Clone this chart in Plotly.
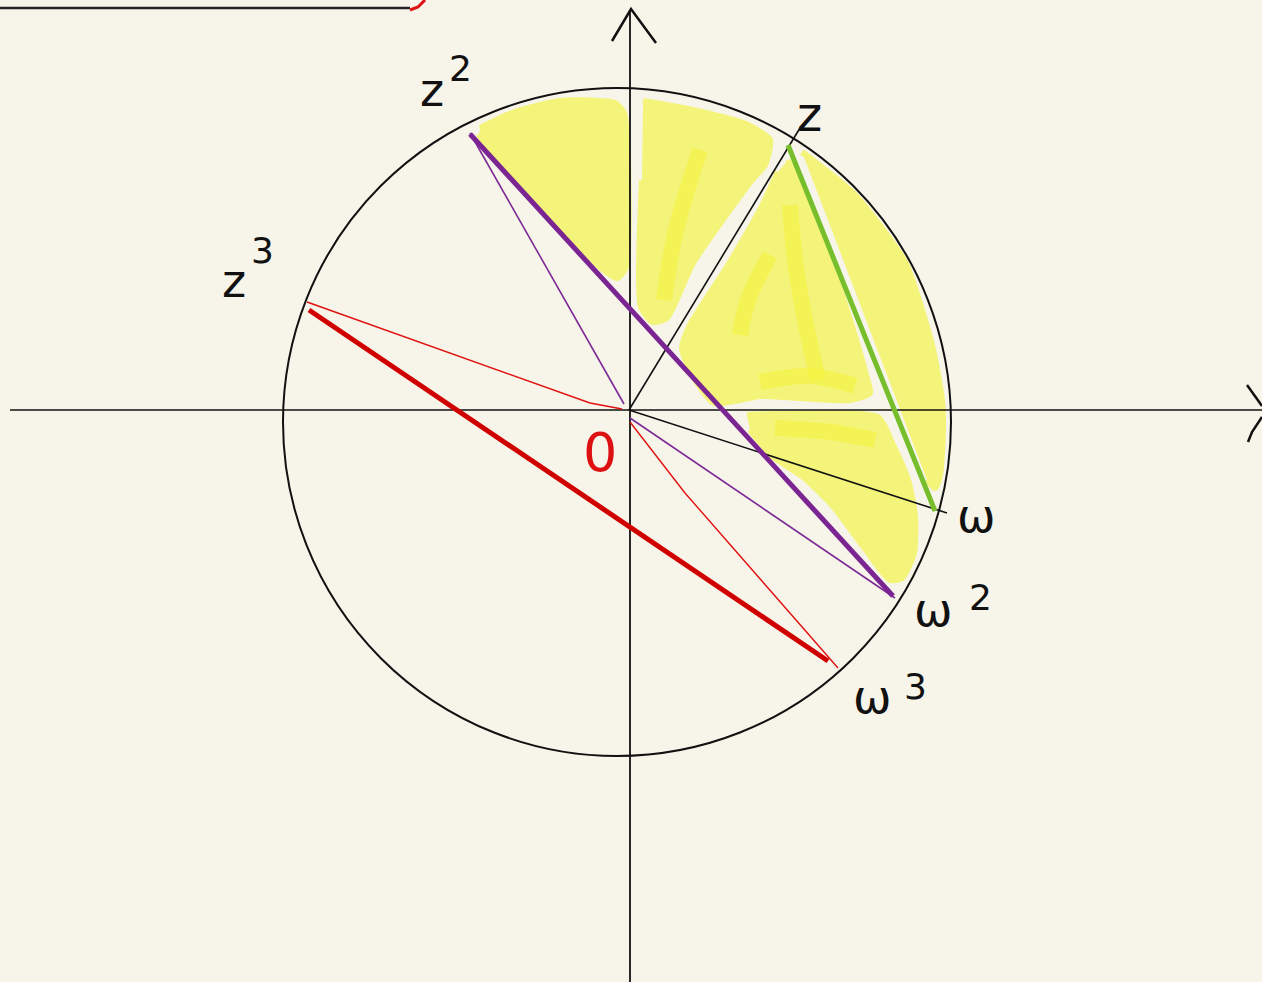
import plotly.graph_objects as go

W, H = 1262, 982
BG = "#F7F5E9"

# ---- data (pixel-space coordinates) ----
circle_box = [283, 88, 951, 756]  # x0, y0, x1, y1

# green chord z -> w
green_x = [788, 935]
green_y = [145, 511]
# purple thick chord z2 -> w2
purple_x = [470, 893]
purple_y = [134, 596]
# purple thin radii
purple_thin_x = [470, 624, None, 630, 895]
purple_thin_y = [133, 404, None, 418, 598]
# red thick chord z3 -> w3
red_x = [309, 828]
red_y = [310, 661]
# red thin radii (hand drawn, slightly bent)
red_thin_x = [307, 527, 590, 622, None, 630, 685, 838]
red_thin_y = [302, 380, 403, 409, None, 422, 493, 668]
# black radii to z and w
black_x = [629, 800, None, 629, 947]
black_y = [410, 128, None, 410, 513]

# axes
xaxis_x = [10, 1262]
xaxis_y = [410, 410]
yaxis_x = [630, 630]
yaxis_y = [10, 982]
yarrow_x = [612, 631, 656]
yarrow_y = [41, 9, 43]
xarrow_x = [1247, 1262]
xarrow_y = [385, 406]
xcheck_x = [1248, 1252, 1262]
xcheck_y = [442, 432, 417]
topline_x = [0, 410]
topline_y = [8, 8]
topred_x = [410, 418, 425]
topred_y = [10, 7, 0]

# yellow highlighted regions (polygons)
yellow_regions = [
    ([480, 512, 560, 615, 624, 626, 617, 600, 527, 487, 479],
     [128, 113, 101, 103, 113, 267, 278, 267, 190, 150, 134]),
    ([643, 693, 748, 770, 765, 752, 693, 667, 653, 641, 642],
     [101, 110, 125, 140, 165, 180, 263, 318, 322, 307, 180]),
    ([788, 800, 830, 850, 866, 870, 850, 800, 760, 740, 714, 702, 690, 682, 690, 727, 760, 778],
     [160, 185, 260, 320, 375, 393, 400, 398, 396, 400, 403, 390, 370, 348, 325, 267, 210, 172]),
    ([802, 855, 905, 932, 942, 943, 940, 935, 927],
     [152, 195, 262, 345, 400, 430, 475, 488, 480]),
    ([747, 780, 878, 893, 908, 915, 914, 902, 890, 866, 832, 802, 772, 750],
     [415, 414, 417, 445, 480, 515, 553, 578, 580, 550, 505, 476, 456, 430]),
]
# brighter yellow streaks
streaks = [
    ([700, 676, 664], [150, 230, 300]),
    ([790, 795, 805, 818], [205, 260, 320, 380]),
    ([770, 748, 740], [255, 300, 335]),
    ([760, 810, 855], [382, 376, 386]),
    ([775, 830, 875], [428, 432, 440]),
]

# labels: (text, x, y, color, size)
labels = [
    ("z", 432, 90, "#111111", 46),
    ("2", 460, 68, "#111111", 36),
    ("z", 234, 281, "#111111", 46),
    ("3", 262, 250, "#111111", 36),
    ("z", 809, 114, "#111111", 48),
    ("ω", 976, 516, "#111111", 46),
    ("ω", 933, 610, "#111111", 46),
    ("2", 980, 597, "#111111", 36),
    ("ω", 872, 697, "#111111", 46),
    ("3", 915, 686, "#111111", 36),
    ("0", 600, 452, "#DD1111", 54),
]

fig = go.Figure()

for xs, ys in yellow_regions:
    fig.add_trace(go.Scatter(x=xs, y=ys, fill="toself", mode="lines",
                             line=dict(color="#F4F47A", width=6, shape="spline", smoothing=0.6),
                             fillcolor="#F4F47A", hoverinfo="skip", showlegend=False))
for xs, ys in streaks:
    fig.add_trace(go.Scatter(x=xs, y=ys, mode="lines",
                             line=dict(color="#F5F33A", width=16, shape="spline"),
                             opacity=0.55, hoverinfo="skip", showlegend=False))

def line(xs, ys, color, width):
    fig.add_trace(go.Scatter(x=xs, y=ys, mode="lines", line=dict(color=color, width=width),
                             hoverinfo="skip", showlegend=False))

line(topline_x, topline_y, "#222222", 2.5)
line(topred_x, topred_y, "#DD1111", 3)
line(xaxis_x, xaxis_y, "#111111", 1.6)
line(yaxis_x, yaxis_y, "#111111", 1.8)
line(yarrow_x, yarrow_y, "#111111", 2.5)
line(xarrow_x, xarrow_y, "#111111", 2.5)
line(xcheck_x, xcheck_y, "#111111", 2.5)
line(black_x, black_y, "#111111", 1.6)
line(purple_thin_x, purple_thin_y, "#7E2A96", 1.6)
line(red_thin_x, red_thin_y, "#E01010", 1.4)
line(green_x, green_y, "#76BE2C", 5)
line(purple_x, purple_y, "#7B2593", 5)
line(red_x, red_y, "#D00000", 5)

fig.add_shape(type="circle", xref="x", yref="y",
              x0=circle_box[0], y0=circle_box[1], x1=circle_box[2], y1=circle_box[3],
              line=dict(color="#111111", width=2))

for text, x, y, color, size in labels:
    fig.add_annotation(x=x, y=y, text=text, showarrow=False,
                       font=dict(family="DejaVu Sans, sans-serif", size=size, color=color))

fig.update_layout(
    width=W, height=H, margin=dict(l=0, r=0, t=0, b=0),
    paper_bgcolor=BG, plot_bgcolor=BG,
    xaxis=dict(range=[0, W], visible=False, fixedrange=True),
    yaxis=dict(range=[H, 0], visible=False, fixedrange=True),
)
fig.write_html("out.html", config={"displayModeBar": False},
               post_script="document.body.style.margin='0';document.body.style.background='" + BG + "';")
